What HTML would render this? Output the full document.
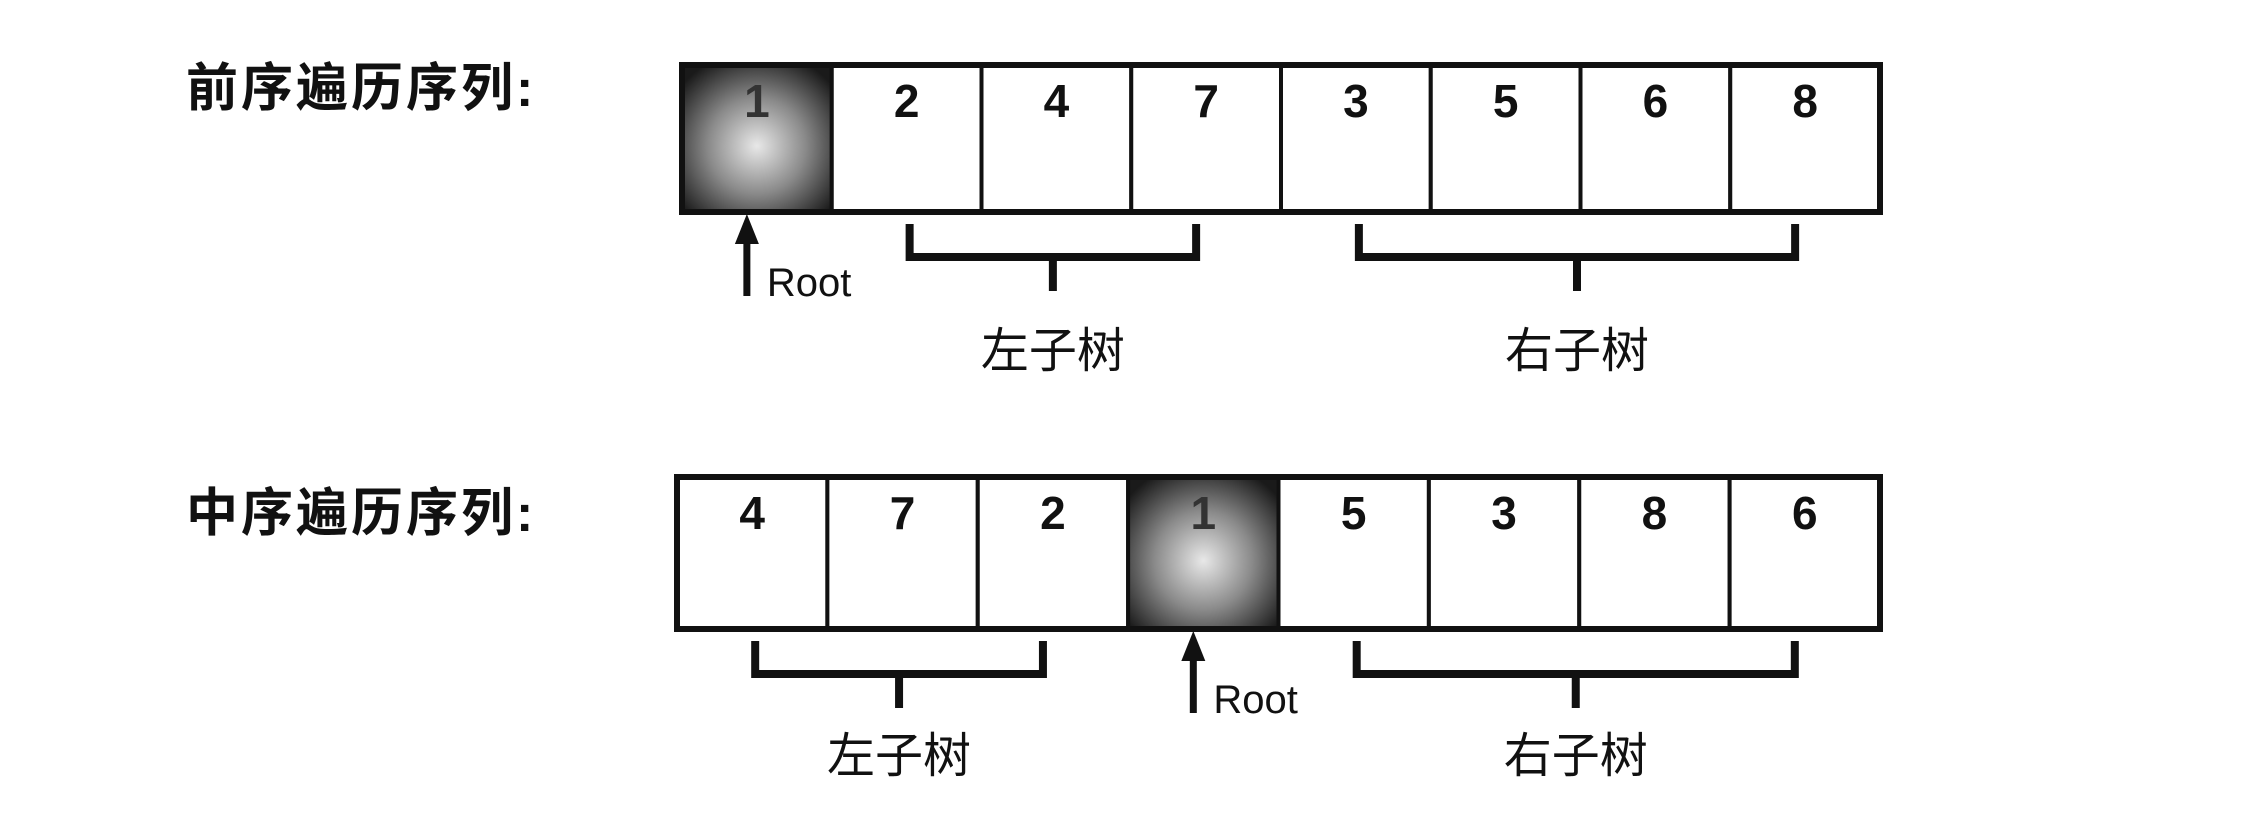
<!DOCTYPE html>
<html><head><meta charset="utf-8"><style>
html,body{margin:0;padding:0;background:#fff;}
body{width:2267px;height:809px;overflow:hidden;position:relative;}
svg text{font-family:"Liberation Sans","Noto Sans CJK SC",sans-serif;}
</style></head><body>
<svg id="chart" width="2267" height="809" viewBox="0 0 2267 809" xmlns="http://www.w3.org/2000/svg">
<defs>
<radialGradient id="shade" cx="0.5" cy="0.55" r="0.65">
<stop offset="0" stop-color="#e8e8e8"/><stop offset="0.5" stop-color="#8a8a8a"/><stop offset="1" stop-color="#1a1a1a"/>
</radialGradient>
</defs>
</svg>
<script>
const preorder = [1,2,4,7,3,5,6,8];
const inorder = [4,7,2,1,5,3,8,6];
const rowLabels = ["前序遍历序列:", "中序遍历序列:"];
const subtreeLabels = ["左子树", "右子树"];
const svg = document.getElementById('chart');
const NS = 'http://www.w3.org/2000/svg';
function mk(tag, attrs){const e=document.createElementNS(NS,tag);for(const k in attrs)e.setAttribute(k,attrs[k]);svg.appendChild(e);return e;}
const rows = [
 {data:preorder,x0:682,x1:1880,y0:65,y1:212,ly:88,sy:0,name:'preorder',root:preorder[0]},
 {data:inorder,x0:677,x1:1880,y0:477,y1:629,ly:513,sy:-12,name:'inorder',root:preorder[0]}
];
rows.forEach((r,ri)=>{
  const n=r.data.length, w=(r.x1-r.x0)/n;
  const cx=i=>r.x0+w*i;
  const lab=mk('text',{x:186,y:r.ly+18,'font-size':52,'font-weight':'bold','letter-spacing':3,fill:'#111'});
  lab.textContent=rowLabels[ri];
  
  
  const rootIdx=r.data.indexOf(r.root);
  r.data.forEach((v,i)=>{
    const rc=mk('rect',{x:cx(i),y:r.y0,width:w,height:r.y1-r.y0,fill:i===rootIdx?'url(#shade)':'#fff',stroke:'#111','stroke-width':4});
    
    
    const t=mk('text',{x:cx(i)+w/2,y:r.y0+52,'font-size':46,'font-weight':'bold','text-anchor':'middle',fill:i===rootIdx?'#333':'#111'});
    t.textContent=v;
    
    
  });
  mk('rect',{x:r.x0,y:r.y0,width:r.x1-r.x0,height:r.y1-r.y0,fill:'none',stroke:'#111','stroke-width':6});
  const ax=cx(rootIdx)+w/2-10;
  const ar=mk('path',{d:`M${ax} ${r.y1+84} L${ax} ${r.y1+28}`,stroke:'#111','stroke-width':7,fill:'none'});
  
  
  mk('path',{d:`M${ax-12} ${r.y1+32} L${ax} ${r.y1+2} L${ax+12} ${r.y1+32} Z`,fill:'#111'});
  const rt=mk('text',{x:ax+20,y:r.y1+84,'font-size':40,fill:'#111'});
  rt.textContent='Root';
  
  
  const left=[0,rootIdx], right=[rootIdx+1,n];
  const subs=ri===0?[[1,1+inorder.indexOf(preorder[0])],[1+inorder.indexOf(preorder[0]),n]]:[left,right];
  subs.forEach((s,si)=>{
    if(s[1]<=s[0])return;
    const bx0=cx(s[0])+w/2+3, bx1=cx(s[1]-1)+w/2-10, by=r.y1+12, bb=r.y1+45, mid=(bx0+bx1)/2;
    const br=mk('path',{d:`M${bx0} ${by} L${bx0} ${bb} L${bx1} ${bb} L${bx1} ${by} M${mid} ${bb} L${mid} ${bb+34}`,stroke:'#111','stroke-width':8,fill:'none'});
    
    
    const st=mk('text',{x:mid,y:bb+110+r.sy,'font-size':48,'text-anchor':'middle',fill:'#111'});
    st.textContent=subtreeLabels[si];
    
    
  });
});
</script>
</body></html>
